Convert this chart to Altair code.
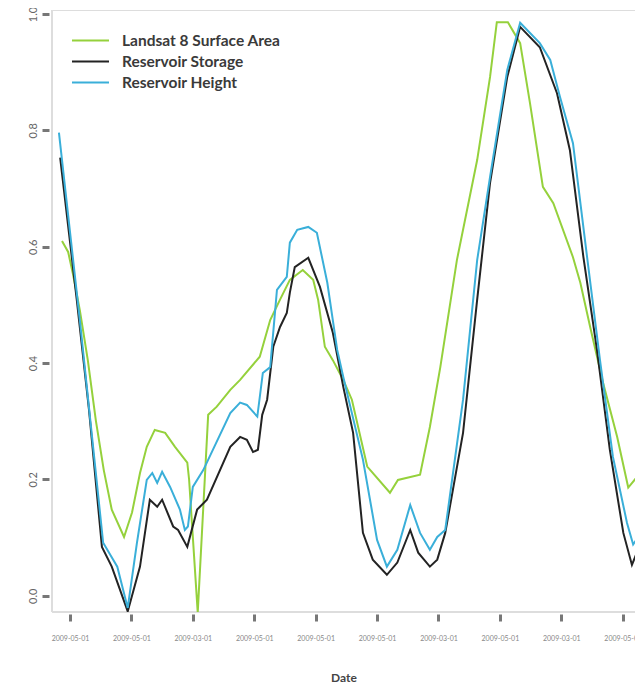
import altair as alt
import pandas as pd

# x positions are in units of the axis tick spacing (tick k = k-th date label)
tick_labels = ["2009-05-01", "2009-05-01", "2009-03-01", "2009-05-01", "2009-05-01",
               "2009-05-01", "2009-03-01", "2009-05-01", "2009-03-01", "2009-05-01"]

landsat_t = [-0.13, -0.03, 0.05, 0.16, 0.29, 0.42, 0.55, 0.68, 0.88, 1.01, 1.14, 1.25, 1.38, 1.55,
             1.71, 1.91, 1.94, 2.08, 2.25, 2.39, 2.61, 2.77, 3.09, 3.26, 3.42, 3.58, 3.79, 3.96,
             4.04, 4.15, 4.28, 4.45, 4.59, 4.84, 5.21, 5.34, 5.70, 5.86, 6.03, 6.30, 6.63, 6.84,
             6.95, 7.13, 7.33, 7.49, 7.70, 7.87, 8.19, 8.31, 8.47, 8.68, 8.91, 9.09, 9.23, 9.33]
landsat_v = [0.610, 0.591, 0.552, 0.491, 0.405, 0.302, 0.216, 0.148, 0.101, 0.143, 0.211, 0.256,
             0.285, 0.280, 0.256, 0.229, 0.199, -0.029, 0.311, 0.325, 0.354, 0.371, 0.411, 0.474,
             0.509, 0.543, 0.560, 0.543, 0.509, 0.428, 0.405, 0.371, 0.337, 0.222, 0.177, 0.199,
             0.208, 0.290, 0.393, 0.577, 0.749, 0.892, 0.986, 0.986, 0.950, 0.847, 0.703, 0.675,
             0.582, 0.538, 0.462, 0.366, 0.273, 0.186, 0.204, 0.211]

storage_t = [-0.16, 0.11, 0.31, 0.52, 0.68, 0.94, 1.14, 1.30, 1.42, 1.50, 1.68, 1.76, 1.91, 2.07,
             2.23, 2.61, 2.77, 2.88, 2.98, 3.06, 3.13, 3.21, 3.31, 3.42, 3.53, 3.58, 3.66, 3.88,
             4.07, 4.28, 4.45, 4.61, 4.77, 4.93, 5.16, 5.33, 5.54, 5.67, 5.86, 5.98, 6.11, 6.40,
             6.63, 6.84, 7.12, 7.33, 7.65, 7.93, 8.14, 8.36, 8.58, 8.79, 9.01, 9.15, 9.23, 9.33]
storage_v = [0.753, 0.509, 0.319, 0.084, 0.050, -0.027, 0.050, 0.165, 0.153, 0.165, 0.119, 0.113,
             0.084, 0.148, 0.165, 0.256, 0.273, 0.268, 0.247, 0.251, 0.311, 0.337, 0.428, 0.462,
             0.486, 0.521, 0.565, 0.581, 0.531, 0.452, 0.359, 0.280, 0.108, 0.062, 0.036, 0.057,
             0.113, 0.074, 0.050, 0.062, 0.108, 0.280, 0.509, 0.710, 0.892, 0.978, 0.943, 0.864,
             0.766, 0.582, 0.423, 0.251, 0.108, 0.053, 0.074, 0.079]

height_t = [-0.18, 0.16, 0.54, 0.77, 0.94, 1.09, 1.25, 1.34, 1.42, 1.50, 1.63, 1.79, 1.87, 1.92,
            2.00, 2.17, 2.61, 2.77, 2.88, 3.05, 3.14, 3.26, 3.37, 3.53, 3.58, 3.70, 3.88, 4.02,
            4.19, 4.35, 4.45, 4.77, 5.00, 5.16, 5.33, 5.54, 5.70, 5.86, 5.98, 6.11, 6.40, 6.63,
            6.84, 7.12, 7.33, 7.65, 7.82, 7.98, 8.19, 8.42, 8.63, 8.84, 9.07, 9.17, 9.33]
height_v = [0.796, 0.474, 0.091, 0.050, -0.021, 0.091, 0.199, 0.211, 0.194, 0.213, 0.187, 0.148,
            0.113, 0.119, 0.187, 0.216, 0.314, 0.332, 0.328, 0.308, 0.383, 0.393, 0.526, 0.548,
            0.607, 0.629, 0.634, 0.624, 0.538, 0.423, 0.376, 0.234, 0.096, 0.050, 0.079, 0.156,
            0.108, 0.079, 0.101, 0.113, 0.337, 0.577, 0.720, 0.904, 0.985, 0.950, 0.921, 0.857,
            0.778, 0.582, 0.405, 0.239, 0.125, 0.088, 0.113]

series_names = ["Landsat 8 Surface Area", "Reservoir Storage", "Reservoir Height"]
series_colors = ["#95d13c", "#232323", "#3aafd9"]

rows = []
for name, ts, vs in zip(series_names, [landsat_t, storage_t, height_t],
                        [landsat_v, storage_v, height_v]):
    for i, (t, v) in enumerate(zip(ts, vs)):
        rows.append({"series": name, "t": t, "v": v, "i": i})
df = pd.DataFrame(rows)

W, H = 583, 602
FONT = "Lato"

label_expr = "[" + ",".join("'%s'" % s for s in tick_labels) + "][datum.value]"

lines = alt.Chart(df).mark_line(strokeWidth=2, clip=True).encode(
    x=alt.X("t:Q", scale=alt.Scale(domain=[-0.293, 9.2], nice=False, zero=False),
            axis=alt.Axis(values=list(range(len(tick_labels))), labelExpr=label_expr,
                          domain=False, grid=False, offset=2, tickSize=7, tickWidth=3,
                          tickColor="#777", labelFontSize=7, labelColor="#888",
                          labelPadding=13, labelFont=FONT,
                          title="Date", titleFontSize=12, titleFont=FONT,
                          titleColor="#444", titleFontWeight="bold", titlePadding=31)),
    y=alt.Y("v:Q", scale=alt.Scale(domain=[-0.028, 1.007], nice=False, zero=False),
            axis=alt.Axis(values=[0, 0.2, 0.4, 0.6, 0.8, 1.0], format=".1f",
                          domain=False, grid=False, offset=3, tickSize=7, tickWidth=3,
                          tickColor="#777", labelAngle=-90, labelAlign="center",
                          labelBaseline="top", labelPadding=15, labelFontSize=11,
                          labelColor="#666", labelFont=FONT, title=None)),
    color=alt.Color("series:N", scale=alt.Scale(domain=series_names, range=series_colors),
                    sort=series_names,
                    legend=alt.Legend(title=None, orient="none", legendX=28, legendY=20,
                                      symbolType="M-2,0L2,0", symbolSize=342,
                                      symbolStrokeWidth=2, labelFont=FONT,
                                      labelFontSize=15.5, labelFontWeight="bold",
                                      labelColor="#3a3a3a", rowPadding=2,
                                      labelOffset=21)),
    order=alt.Order("i:Q"),
    detail="series:N",
)

yline = alt.Chart(df).mark_rule(color="#dddddd", strokeWidth=1).encode(
    x=alt.value(0), y=alt.value(0), y2=alt.value(H))
xline = alt.Chart(df).mark_rule(color="#dddddd", strokeWidth=1).encode(
    x=alt.value(0), x2=alt.value(W), y=alt.value(H))

chart = alt.layer(yline, xline, lines).properties(
    width=W, height=H,
    autosize=alt.AutoSizeParams(type="none"),
    padding={"left": 44, "top": 2, "right": 0, "bottom": 72},
).configure_view(stroke=None).configure(background="white")

chart.save("out.html", embed_options={"renderer": "svg", "actions": False})
